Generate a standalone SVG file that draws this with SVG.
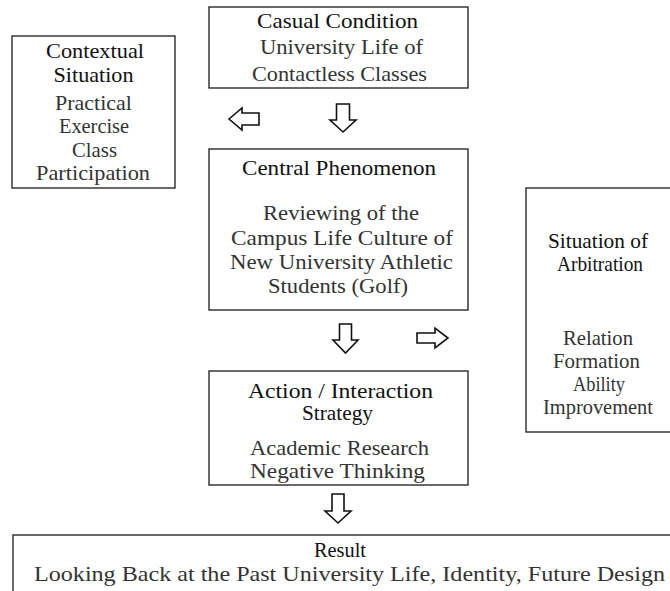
<svg xmlns="http://www.w3.org/2000/svg" width="670" height="591" viewBox="0 0 670 591">
<style>
  .box { fill: #fff; stroke: #1a1a1a; stroke-width: 1.3; }
  .h { font-family: "Liberation Serif", "Times New Roman", "DejaVu Serif", serif; font-size: 21px; fill: #111; text-anchor: middle; }
  .b { font-family: "Liberation Serif", "Times New Roman", "DejaVu Serif", serif; font-size: 22px; fill: #333; text-anchor: middle; }
  .s { font-size: 21px; }
  .arrow { fill: #fff; stroke: #111; stroke-width: 1.6; stroke-linejoin: miter; }
</style>
<rect width="670" height="591" fill="#fff"/>

<g id="casual-condition">
  <rect class="box" x="209" y="7" width="259" height="81"/>
  <text class="h" x="337.5" y="28" textLength="161" lengthAdjust="spacingAndGlyphs">Casual Condition</text>
  <text class="b" x="341.5" y="54" textLength="163" lengthAdjust="spacingAndGlyphs">University Life of</text>
  <text class="b" x="339.5" y="81" textLength="175" lengthAdjust="spacingAndGlyphs">Contactless Classes</text>
</g>

<g id="contextual-situation">
  <rect class="box" x="12" y="36" width="163" height="152"/>
  <text class="h" x="95" y="58" textLength="98" lengthAdjust="spacingAndGlyphs">Contextual</text>
  <text class="h" x="93.5" y="82" textLength="80" lengthAdjust="spacingAndGlyphs">Situation</text>
  <text class="b" x="93.5" y="110" textLength="77" lengthAdjust="spacingAndGlyphs">Practical</text>
  <text class="b" x="94" y="133" textLength="70" lengthAdjust="spacingAndGlyphs">Exercise</text>
  <text class="b" x="94.5" y="157" textLength="45" lengthAdjust="spacingAndGlyphs">Class</text>
  <text class="b" x="93" y="180" textLength="114" lengthAdjust="spacingAndGlyphs">Participation</text>
</g>

<g id="central-phenomenon">
  <rect class="box" x="209" y="149" width="259" height="161"/>
  <text class="h" x="339" y="175" textLength="194" lengthAdjust="spacingAndGlyphs">Central Phenomenon</text>
  <text class="b" x="341" y="220" textLength="156" lengthAdjust="spacingAndGlyphs">Reviewing of the</text>
  <text class="b" x="342" y="245" textLength="222" lengthAdjust="spacingAndGlyphs">Campus Life Culture of</text>
  <text class="b" x="341.5" y="269" textLength="223" lengthAdjust="spacingAndGlyphs">New University Athletic</text>
  <text class="b" x="338" y="293" textLength="140" lengthAdjust="spacingAndGlyphs">Students (Golf)</text>
</g>

<g id="situation-of-arbitration">
  <rect class="box" x="526" y="188" width="150" height="244"/>
  <text class="h" x="598" y="248" textLength="100" lengthAdjust="spacingAndGlyphs">Situation of</text>
  <text class="h" x="600" y="271" textLength="86" lengthAdjust="spacingAndGlyphs">Arbitration</text>
  <text class="b s" x="598" y="345" textLength="70" lengthAdjust="spacingAndGlyphs">Relation</text>
  <text class="b s" x="596.5" y="368" textLength="87" lengthAdjust="spacingAndGlyphs">Formation</text>
  <text class="b s" x="599" y="391" textLength="52" lengthAdjust="spacingAndGlyphs">Ability</text>
  <text class="b s" x="598" y="414" textLength="110" lengthAdjust="spacingAndGlyphs">Improvement</text>
</g>

<g id="action-interaction-strategy">
  <rect class="box" x="209" y="371" width="259" height="114"/>
  <text class="h" x="340.5" y="398" textLength="185" lengthAdjust="spacingAndGlyphs">Action / Interaction</text>
  <text class="h" x="337.5" y="420" textLength="71" lengthAdjust="spacingAndGlyphs">Strategy</text>
  <text class="b" x="339.5" y="455" textLength="179" lengthAdjust="spacingAndGlyphs">Academic Research</text>
  <text class="b" x="337.5" y="478" textLength="175" lengthAdjust="spacingAndGlyphs">Negative Thinking</text>
</g>

<g id="result">
  <rect class="box" x="13" y="535" width="670" height="70"/>
  <text class="h" x="340" y="557" textLength="52" lengthAdjust="spacingAndGlyphs">Result</text>
  <text class="b" x="349.5" y="581" textLength="631" lengthAdjust="spacingAndGlyphs">Looking Back at the Past University Life, Identity, Future Design</text>
</g>

<g id="connectors">
  <path class="arrow" d="M229,119 L242,108 L242,113 L259,113 L259,125 L242,125 L242,130 Z"/>
  <path class="arrow" d="M336.5,104 H349.5 V120 H356 L343,132 L330,120 H336.5 Z"/>
  <path class="arrow" d="M339.5,324 H351.5 V340 H358 L345.5,353 L333,340 H339.5 Z"/>
  <path class="arrow" d="M417,333 H435 V328 L448,338 L435,348 V343 H417 Z"/>
  <path class="arrow" d="M332,494 H344 V511 H351 L338,523 L325,511 H332 Z"/>
</g>
</svg>
